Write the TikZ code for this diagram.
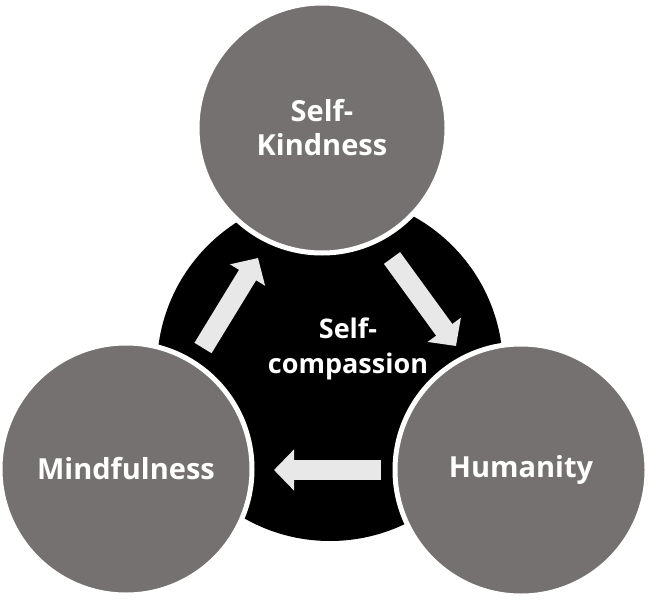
\documentclass[tikz,border=0pt]{standalone}
\usepackage{fontspec}
\setmainfont{Open Sans}
\usetikzlibrary{arrows.meta}
\begin{document}
\begin{tikzpicture}[x=1pt,y=-1pt,
  petal/.style={circle,fill=gray1,draw=white,line width=5pt,minimum size=#1,inner sep=0pt,
    font=\bfseries\fontsize{29}{34}\selectfont,text=white,align=center},
  flow/.style={draw=arrowc,line width=20pt,-{Triangle[width=40pt,length=20pt]},shorten >=0pt}]
\definecolor{gray1}{HTML}{767171}
\definecolor{arrowc}{HTML}{E8E8E8}
\useasboundingbox (0,0) rectangle (656,602);
\node[circle,fill=black,minimum size=346pt,inner sep=0pt] (core) at (330,368) {};
\node[font=\bfseries\fontsize{27}{35}\selectfont,text=white,align=center] (ctext) at (348,349) {Self-\\compassion};
\node[petal=250pt] (top) at (322,128) {Self-\\Kindness};
\node[petal=252pt] (left) at (126,469) {Mindfulness};
\node[petal=252pt] (right) at (521,470) {Humanity};
\coordinate (a1s) at (381,470); \coordinate (a1e) at (274,470);
\coordinate (a2s) at (203,348); \coordinate (a2e) at (258,258);
\coordinate (a3s) at (392,258); \coordinate (a3e) at (456,346);
\draw[flow] (a1s) -- (a1e);
\draw[flow] (a2s) -- (a2e);
\draw[flow] (a3s) -- (a3e);
\end{tikzpicture}
\end{document}
